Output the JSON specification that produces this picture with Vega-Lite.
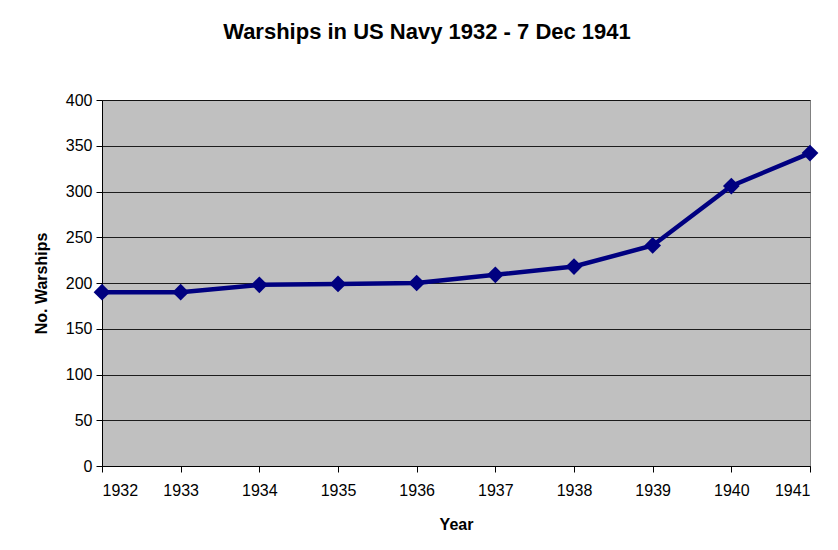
{
  "$schema": "https://vega.github.io/schema/vega-lite/v6.json",
  "width": 708,
  "height": 366,
  "autosize": {"type": "none"},
  "padding": {"left": 102, "top": 100, "right": 28, "bottom": 84},
  "background": "white",
  "title": {
    "text": "Warships in US Navy 1932 - 7 Dec 1941",
    "font": "Liberation Sans",
    "fontSize": 22,
    "fontWeight": "bold",
    "color": "black",
    "anchor": "middle",
    "offset": 48,
    "dx": -29
  },
  "config": {
    "view": {"fill": "#C0C0C0", "stroke": "#808080", "strokeWidth": 1},
    "axis": {
      "labelFont": "Liberation Sans",
      "titleFont": "Liberation Sans",
      "labelColor": "black",
      "titleColor": "black",
      "domainColor": "black",
      "tickColor": "black",
      "labelFontSize": 16,
      "titleFontSize": 16,
      "titleFontWeight": "bold"
    }
  },
  "data": {
    "values": [
      {"year": 1932, "warships": 190},
      {"year": 1933, "warships": 190},
      {"year": 1934, "warships": 198},
      {"year": 1935, "warships": 199},
      {"year": 1936, "warships": 200},
      {"year": 1937, "warships": 209},
      {"year": 1938, "warships": 218},
      {"year": 1939, "warships": 241},
      {"year": 1940, "warships": 306},
      {"year": 1941, "warships": 342}
    ]
  },
  "encoding": {
    "x": {
      "field": "year",
      "type": "quantitative",
      "scale": {"domain": [1932, 1941], "nice": false, "zero": false},
      "axis": {
        "title": "Year",
        "format": "d",
        "values": [1932, 1933, 1934, 1935, 1936, 1937, 1938, 1939, 1940, 1941],
        "grid": false,
        "tickSize": 6,
        "labelPadding": 10,
        "titlePadding": 18
      }
    },
    "y": {
      "field": "warships",
      "type": "quantitative",
      "scale": {"domain": [0, 400], "nice": false},
      "axis": {
        "title": "No. Warships",
        "values": [0, 50, 100, 150, 200, 250, 300, 350, 400],
        "grid": true,
        "gridColor": "#000000",
        "gridOpacity": 0.85,
        "tickSize": 6,
        "labelPadding": 4,
        "titlePadding": 16
      }
    }
  },
  "layer": [
    {"mark": {"type": "line", "color": "#000080", "strokeWidth": 4.5}},
    {"mark": {"type": "point", "shape": "diamond", "filled": true, "color": "#000080", "size": 280, "opacity": 1}}
  ]
}
